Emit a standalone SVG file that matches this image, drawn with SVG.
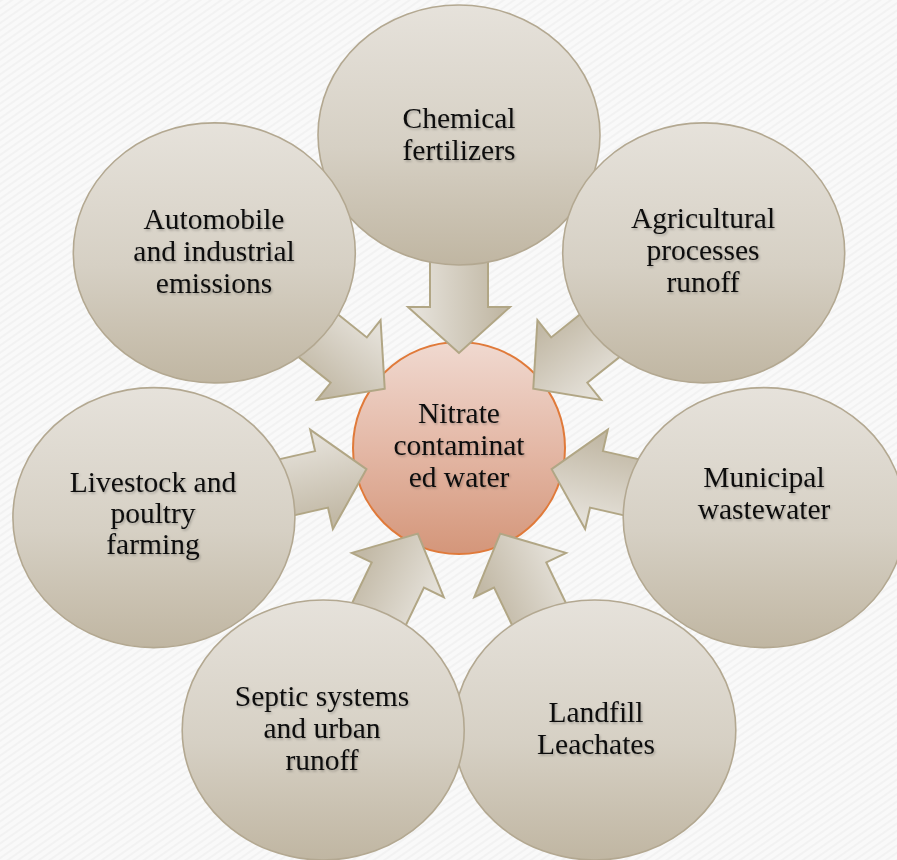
<svg xmlns="http://www.w3.org/2000/svg" width="897" height="860" viewBox="0 0 897 860">
  <defs>
    <pattern id="weave" width="6" height="6" patternUnits="userSpaceOnUse" patternTransform="rotate(-35)">
      <rect width="6" height="6" fill="#f9f9f9"/>
      <line x1="0" y1="1" x2="6" y2="1" stroke="#f0f0f0" stroke-width="1.5"/>
    </pattern>
    <linearGradient id="nodeFill" x1="0" y1="0" x2="0" y2="1">
      <stop offset="0" stop-color="#e6e2db"/>
      <stop offset="0.55" stop-color="#d6d0c4"/>
      <stop offset="1" stop-color="#c0b6a2"/>
    </linearGradient>
    <linearGradient id="hubFill" x1="0" y1="0" x2="0" y2="1">
      <stop offset="0" stop-color="#f0d9d0"/>
      <stop offset="0.5" stop-color="#e4b8a6"/>
      <stop offset="1" stop-color="#d4967a"/>
    </linearGradient>
    <!-- arrow shading across the shaft, in the arrow's own frame -->
    <linearGradient id="arrowA" gradientUnits="userSpaceOnUse" x1="0" y1="-40" x2="0" y2="40">
      <stop offset="0" stop-color="#c2b9a6"/>
      <stop offset="1" stop-color="#e4e0d8"/>
    </linearGradient>
    <linearGradient id="arrowB" gradientUnits="userSpaceOnUse" x1="0" y1="-40" x2="0" y2="40">
      <stop offset="0" stop-color="#e4e0d8"/>
      <stop offset="1" stop-color="#c2b9a6"/>
    </linearGradient>
    <path id="arrowShape" d="M95,0 L141,-51 L141,-29 L205,-29 L205,29 L141,29 L141,51 Z"/>
    <filter id="textShadow" x="-10%" y="-20%" width="120%" height="150%">
      <feDropShadow dx="1.2" dy="1.6" stdDeviation="1.1" flood-color="#000" flood-opacity="0.25"/>
    </filter>
  </defs>

  <style>
    .node { fill: url(#nodeFill); stroke: #b3a891; stroke-width: 1.6; }
    .hub { fill: url(#hubFill); stroke: #e07a3a; stroke-width: 2; }
    .arrow { stroke: #b1a685; stroke-width: 2; stroke-linejoin: miter; }
    .label { font-family: "Liberation Serif", "Times New Roman", serif; font-size: 29.5px; fill: #111; text-anchor: middle; filter: url(#textShadow); }
  </style>

  <rect width="897" height="860" fill="url(#weave)"/>

  <!-- central hub -->
  <g id="hub">
    <circle class="hub" cx="459" cy="448" r="106"/>
    <text class="label" x="459" y="423">Nitrate</text>
    <text class="label" x="459" y="455">contaminat</text>
    <text class="label" x="459" y="487">ed water</text>
  </g>

  <!-- arrows pointing from each source toward the hub -->
  <g id="connectors" transform="translate(459,448)">
    <use href="#arrowShape" class="arrow" fill="url(#arrowB)" transform="rotate(-90)"/>
    <use href="#arrowShape" class="arrow" fill="url(#arrowA)" transform="rotate(-38.571)"/>
    <use href="#arrowShape" class="arrow" fill="url(#arrowA)" transform="rotate(12.857)"/>
    <use href="#arrowShape" class="arrow" fill="url(#arrowB)" transform="rotate(64.286)"/>
    <use href="#arrowShape" class="arrow" fill="url(#arrowB)" transform="rotate(115.714)"/>
    <use href="#arrowShape" class="arrow" fill="url(#arrowA)" transform="rotate(167.143)"/>
    <use href="#arrowShape" class="arrow" fill="url(#arrowA)" transform="rotate(218.571)"/>
  </g>

  <g id="chemical-fertilizers">
    <ellipse class="node" cx="459" cy="135" rx="141" ry="130"/>
    <text class="label" x="459" y="128">Chemical</text>
    <text class="label" x="459" y="160">fertilizers</text>
  </g>

  <g id="agricultural-runoff">
    <ellipse class="node" cx="703.7" cy="252.9" rx="141" ry="130"/>
    <text class="label" x="703" y="228">Agricultural</text>
    <text class="label" x="703" y="260">processes</text>
    <text class="label" x="703" y="292">runoff</text>
  </g>

  <g id="municipal-wastewater">
    <ellipse class="node" cx="764.2" cy="517.6" rx="141" ry="130"/>
    <text class="label" x="764" y="487">Municipal</text>
    <text class="label" x="764" y="519">wastewater</text>
  </g>

  <g id="landfill-leachates">
    <ellipse class="node" cx="594.8" cy="730" rx="141" ry="130"/>
    <text class="label" x="596" y="722">Landfill</text>
    <text class="label" x="596" y="754">Leachates</text>
  </g>

  <g id="septic-urban-runoff">
    <ellipse class="node" cx="323.2" cy="730" rx="141" ry="130"/>
    <text class="label" x="322" y="706">Septic systems</text>
    <text class="label" x="322" y="738">and urban</text>
    <text class="label" x="322" y="770">runoff</text>
  </g>

  <g id="livestock-poultry">
    <ellipse class="node" cx="153.9" cy="517.6" rx="141" ry="130"/>
    <text class="label" x="153" y="492">Livestock and</text>
    <text class="label" x="153" y="523">poultry</text>
    <text class="label" x="153" y="554">farming</text>
  </g>

  <g id="automobile-industrial">
    <ellipse class="node" cx="214.3" cy="252.9" rx="141" ry="130"/>
    <text class="label" x="214" y="229">Automobile</text>
    <text class="label" x="214" y="261">and industrial</text>
    <text class="label" x="214" y="293">emissions</text>
  </g>
</svg>
